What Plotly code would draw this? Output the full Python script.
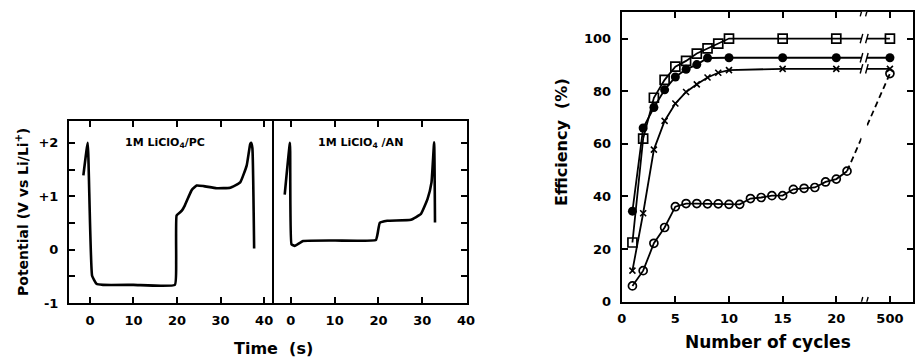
import plotly.graph_objects as go

# ---------------- data ----------------
# Left chart: potential transients (time s, potential V vs Li/Li+)
pc_time = [-1.5, -0.5, 0.5, 1.5, 3, 10, 19.5, 19.8, 19.9, 20.7, 21.1, 21.8, 22.6, 23.4,
           24.5, 26.1, 29.1, 32.2, 34.5, 36.0, 36.8, 37.0, 37.3, 37.7]
pc_pot = [1.39, 2.0, -0.49, -0.64, -0.66, -0.66, -0.66, -0.2, 0.64, 0.70, 0.73, 0.83, 0.98, 1.12,
          1.20, 1.19, 1.15, 1.16, 1.26, 1.58, 1.98, 2.0, 1.9, 0.02]
an_time = [-1.4, -0.2, 0.15, 0.9, 2.8, 10, 19.4, 19.8, 20.3, 22.0, 27.4, 29.7, 31.2,
           32.1, 32.7, 32.9]
an_pot = [1.03, 2.0, 0.10, 0.07, 0.16, 0.17, 0.18, 0.3, 0.50, 0.54, 0.56, 0.67, 0.95,
          1.26, 2.01, 0.51]
left_yticks = [-1, -0.5, 0, 0.5, 1, 1.5, 2]
left_yticktext = ["-1", "", "0", "", "+1", "", "+2"]
time_ticks = [0, 10, 20, 30, 40]

# Right chart: efficiency vs number of cycles
sq_cycles = [1, 2, 3, 4, 5, 6, 7, 8, 9, 10, 15, 20, 500]
sq_eff = [22.5, 62, 77.5, 84.3, 89.3, 91.5, 94.3, 96.3, 98.1, 100, 100, 100, 100]
fc_cycles = [1, 2, 3, 4, 5, 6, 7, 8, 10, 15, 20, 500]
fc_eff = [34.4, 66, 73.8, 80.5, 85.4, 88.3, 90.1, 92.6, 92.7, 92.7, 92.7, 92.7]
x_cycles = [1, 2, 3, 4, 5, 6, 7, 8, 9, 10, 15, 20, 500]
x_eff = [11.8, 33.6, 57.8, 68.7, 75.3, 79.7, 82.6, 85.2, 87.0, 88.0, 88.5, 88.5, 88.5]
oc_cycles = [1, 2, 3, 4, 5, 6, 7, 8, 9, 10, 11, 12, 13, 14, 15, 16, 17, 18, 19, 20, 21]
oc_eff = [6.0, 11.8, 22.2, 28.2, 36.1, 37.3, 37.3, 37.2, 37.2, 37.0, 37.0, 39.2, 39.6, 40.3,
          40.3, 42.7, 43.1, 43.4, 45.5, 46.6, 49.6]
oc_end_cycles = [21, 500]
oc_end_eff = [49.6, 86.7]
cyc_tickvals = [0, 5, 10, 15, 20, 500]
cyc_ticktext = ["0", "5", "10", "15", "20", "500"]

# broken axis: cycle 500 is drawn at position 25
BREAK_POS = 25
BREAK_AT = 22.6


def brk(c):
    return c if c < 100 else BREAK_POS


def brk_list(cs):
    return [brk(c) for c in cs]


FONT = dict(family="DejaVu Sans", size=13, color="black", weight="bold")

fig = go.Figure()

line_style = dict(color="black", width=2.6, shape="spline", smoothing=0.35)
fig.add_trace(go.Scatter(x=pc_time, y=pc_pot, mode="lines", line=line_style,
                         xaxis="x", yaxis="y", showlegend=False))
fig.add_trace(go.Scatter(x=an_time, y=an_pot, mode="lines", line=line_style,
                         xaxis="x2", yaxis="y2", showlegend=False))

lw = 1.8
fig.add_trace(go.Scatter(x=brk_list(oc_end_cycles), y=oc_end_eff, mode="lines",
                         line=dict(color="black", width=lw, dash="6px,4px"),
                         xaxis="x3", yaxis="y3", showlegend=False))
fig.add_trace(go.Scatter(x=brk_list(oc_cycles), y=oc_eff,
                         mode="lines+markers", line=dict(color="black", width=lw),
                         marker=dict(symbol="circle-open", size=8, color="black",
                                     line=dict(width=1.7)),
                         xaxis="x3", yaxis="y3", showlegend=False))
fig.add_trace(go.Scatter(x=brk_list(oc_end_cycles[1:]), y=oc_end_eff[1:], mode="markers",
                         marker=dict(symbol="circle-open", size=8, color="black",
                                     line=dict(width=1.7)),
                         xaxis="x3", yaxis="y3", showlegend=False))
fig.add_trace(go.Scatter(x=brk_list(x_cycles), y=x_eff, mode="lines+markers",
                         line=dict(color="black", width=lw),
                         marker=dict(symbol="x-thin", size=6, color="black",
                                     line=dict(width=1.6, color="black")),
                         xaxis="x3", yaxis="y3", showlegend=False))
fig.add_trace(go.Scatter(x=brk_list(fc_cycles), y=fc_eff, mode="lines+markers",
                         line=dict(color="black", width=lw),
                         marker=dict(symbol="circle", size=9, color="black"),
                         xaxis="x3", yaxis="y3", showlegend=False))
fig.add_trace(go.Scatter(x=brk_list(sq_cycles), y=sq_eff, mode="lines+markers",
                         line=dict(color="black", width=lw),
                         marker=dict(symbol="square-open", size=9, color="black",
                                     line=dict(width=1.7)),
                         xaxis="x3", yaxis="y3", showlegend=False))

axis_common = dict(showline=True, linecolor="black", linewidth=2, ticks="inside",
                   ticklen=6, tickwidth=1.6, tickcolor="black", showgrid=False,
                   zeroline=False, tickfont=FONT, automargin=False)
xax = dict(axis_common, ticklabelstandoff=4)
yax = dict(axis_common, ticklabelstandoff=6)

x1_dom = [69 / 915, 272 / 915]
x2_dom = [272 / 915, 467 / 915]
x3_dom = [621.7 / 915, 913 / 915]
yl_dom = [1 - 303 / 357, 1 - 121 / 357]
yr_dom = [1 - 301.7 / 357, 1 - 11.7 / 357]

fig.update_layout(
    width=915, height=357, autosize=False,
    margin=dict(l=0, r=0, t=0, b=0, autoexpand=False),
    paper_bgcolor="white", plot_bgcolor="white",
    font=FONT,
    xaxis=dict(xax, domain=x1_dom, range=[-4.8, 41.8], tickvals=time_ticks,
               mirror="ticks", anchor="y"),
    yaxis=dict(yax, domain=yl_dom, range=[-1, 2.41], tickvals=left_yticks,
               ticktext=left_yticktext, mirror=True, anchor="x"),
    xaxis2=dict(xax, domain=x2_dom, range=[-4.3, 40.2], tickvals=time_ticks,
                mirror="ticks", anchor="y2"),
    yaxis2=dict(yax, domain=yl_dom, range=[-1, 2.41], tickvals=left_yticks,
                showticklabels=False, side="right", mirror=False, anchor="x2"),
    xaxis3=dict(xax, domain=x3_dom, range=[0, 27.15],
                tickvals=brk_list(cyc_tickvals), ticktext=cyc_ticktext,
                mirror="ticks", anchor="y3"),
    yaxis3=dict(yax, domain=yr_dom, range=[0, 110.2],
                tickvals=[0, 20, 40, 60, 80, 100], mirror="ticks", anchor="x3"),
)

# axis-break gap and slashes on the right chart
gap_l, gap_r = BREAK_AT - 0.25, BREAK_AT + 0.25
fig.add_shape(type="rect", xref="x3", yref="y3", x0=gap_l, x1=gap_r, y0=-2, y1=112,
              fillcolor="white", line=dict(width=0), layer="above")
for lev in [0, 110.2, sq_eff[-1], fc_eff[-1], x_eff[-1]]:
    for xc in (gap_l, gap_r):
        fig.add_shape(type="line", xref="x3", yref="y3", x0=xc - 0.12, x1=xc + 0.12,
                      y0=lev - 1.8, y1=lev + 1.8, line=dict(color="black", width=1.4),
                      layer="above")

# panel labels
ann_font = dict(family="DejaVu Sans", size=11, color="black", weight="bold")
fig.add_annotation(x=17.2, y=2.0, xref="x", yref="y", text="1M LiClO<sub>4</sub>/PC",
                   showarrow=False, font=ann_font, xanchor="center", yanchor="middle")
fig.add_annotation(x=15.8, y=2.0, xref="x2", yref="y2", text="1M LiClO<sub>4</sub> /AN",
                   showarrow=False, font=ann_font, xanchor="center", yanchor="middle")

# axis titles
fig.add_annotation(x=273 / 915, y=1 - 348 / 357, xref="paper", yref="paper",
                   text="Time  (s)", showarrow=False, font=dict(FONT, size=16),
                   xanchor="center", yanchor="middle")
fig.add_annotation(x=22 / 915, y=1 - 212 / 357, xref="paper", yref="paper",
                   text="Potential (V vs Li/Li<sup>+</sup>)", textangle=-90, showarrow=False,
                   font=dict(FONT, size=14), xanchor="center", yanchor="middle")
fig.add_annotation(x=768 / 915, y=1 - 342 / 357, xref="paper", yref="paper",
                   text="Number of cycles", showarrow=False, font=dict(FONT, size=17),
                   xanchor="center", yanchor="middle")
fig.add_annotation(x=562 / 915, y=1 - 142 / 357, xref="paper", yref="paper",
                   text="Efficiency  (%)", textangle=-90, showarrow=False,
                   font=dict(FONT, size=16), xanchor="center", yanchor="middle")

fig.write_html("out.html",
               config={"displayModeBar": False},
               post_script="document.body.style.margin='0px';"
                           "document.body.style.overflow='hidden';")
